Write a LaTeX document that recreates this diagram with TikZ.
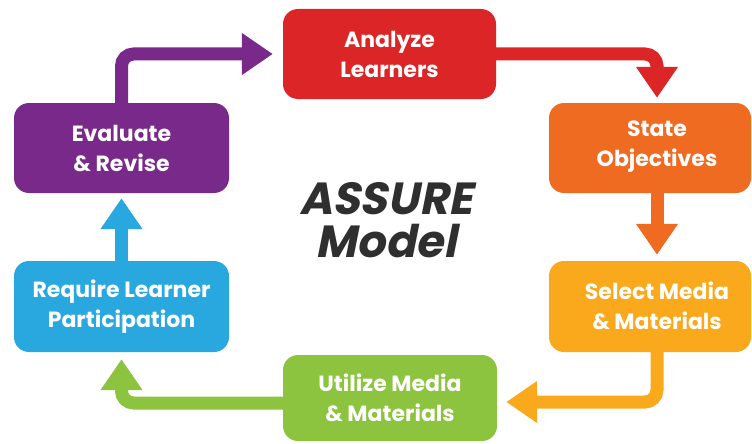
\documentclass[tikz,border=0pt]{standalone}
\usepackage{fontspec}
\setmainfont{Poppins}
\newfontfamily\titlefont[FakeSlant=0.2]{Poppins}
\usetikzlibrary{arrows.meta}
\definecolor{cRed}{HTML}{DB2526}
\definecolor{cOrange}{HTML}{F06B22}
\definecolor{cYellow}{HTML}{F9A91B}
\definecolor{cGreen}{HTML}{8CC33F}
\definecolor{cBlue}{HTML}{29A8DF}
\definecolor{cPurple}{HTML}{78298A}
\definecolor{cTitle}{HTML}{2F2F2F}
\tikzset{
  stage/.style={rounded corners=15pt, inner sep=0pt, text=white,
    font=\fontsize{22}{30}\selectfont\bfseries, align=center},
  label/.style={inner sep=0pt, text=white,
    font=\fontsize{22}{30}\selectfont\bfseries, align=center},
  flow/.style={line width=13pt, rounded corners=12pt,
    -{Triangle[length=31pt,width=40pt]}}
}
\begin{document}
\begin{tikzpicture}[x=1pt,y=-1pt]
\useasboundingbox (0,0) rectangle (752,444);

% the six stages of the cycle
\node[stage, fill=cRed, minimum width=213pt, minimum height=90pt] (analyze) at (389.5,54) {Analyze\\Learners};
\node[stage, fill=cOrange, minimum width=202pt, minimum height=90pt] (state) at (650,148) {};
\node[label] (stateText) at (657,147) {State\\Objectives};
\node[stage, fill=cYellow, minimum width=202pt, minimum height=91pt] (select) at (650,306.5) {};
\node[label] (selectText) at (657,305.5) {Select Media\\\& Materials};
\node[stage, fill=cGreen, minimum width=214pt, minimum height=86pt] (utilize) at (390,398) {Utilize Media\\\& Materials};
\node[stage, fill=cBlue, minimum width=215pt, minimum height=91pt] (require) at (121.5,306.5) {Require Learner\\Participation};
\node[stage, fill=cPurple, minimum width=215pt, minimum height=90pt] (eval) at (121.5,148) {Evaluate\\\& Revise};

% centre title
\node[font=\titlefont\bfseries\fontsize{45}{43}\selectfont, text=cTitle, align=center, inner sep=0pt] (title) at (386,220) {ASSURE\\Model};

% connectors between the stages
\draw[flow, cPurple] (eval.north) |- ([xshift=-10pt]analyze.west);
\draw[flow, cRed] (analyze.east) -| ([xshift=7pt,yshift=5pt]state.north);
\draw[flow, cOrange] ([xshift=7pt]state.south) -- ([xshift=7pt,yshift=6pt]select.north);
\draw[flow, cYellow] ([xshift=7pt]select.south) |- ([xshift=9pt,yshift=-4pt]utilize.east);
\draw[flow, cGreen] ([yshift=-5pt]utilize.west) -| ([yshift=-7pt]require.south);
\draw[flow, cBlue] (require.north) -- ([yshift=-5pt]eval.south);
\end{tikzpicture}
\end{document}
